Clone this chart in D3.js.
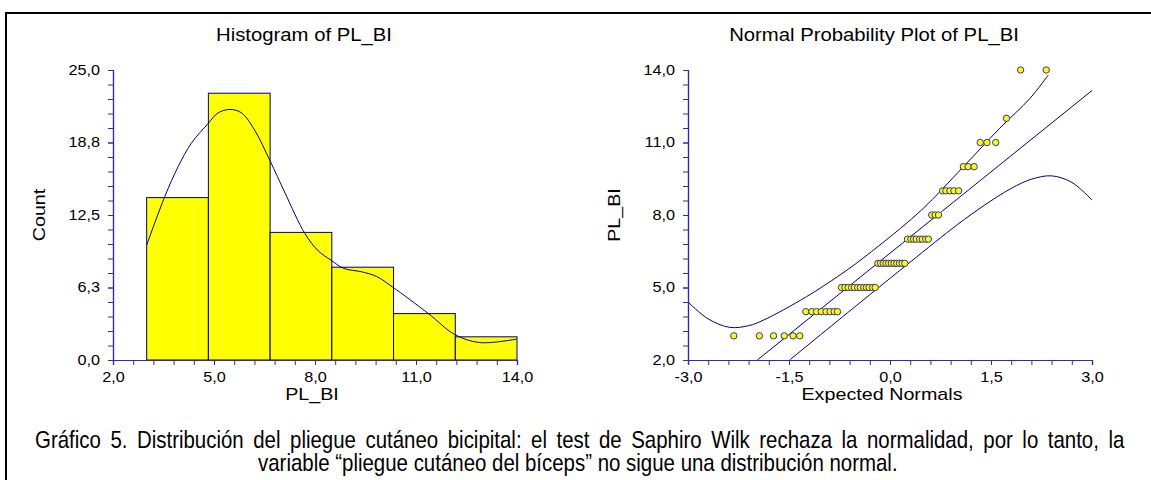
<!DOCTYPE html>
<html>
<head>
<meta charset="utf-8">
<script src="https://cdn.jsdelivr.net/npm/d3@7"></script>
<style>
  body { margin: 0; background: #fff; }
  svg { display: block; }
  text { font-family: "Liberation Sans", Arial, sans-serif; fill: #000; }
  .caption { font-family: "Liberation Sans Narrow", "Arial Narrow", "Liberation Sans", sans-serif; }
</style>
</head>
<body>
<svg id="chart" width="1151" height="480"></svg>
<script>
// histogram of PL_BI
var binLower = [3.0, 4.833, 6.667, 8.5, 10.333, 12.167];
var binUpper = [4.833, 6.667, 8.5, 10.333, 12.167, 14.0];
var binCount = [14, 23, 11, 8, 4, 2];

// smoothed density line over the histogram (in counts)
var densX = [3.0, 3.54, 3.94, 4.33, 4.83, 5.12, 5.47, 5.82, 6.21, 6.66, 7.11, 7.7, 8.1, 8.48, 8.85, 9.39, 9.83, 10.3, 11.37, 12.15, 12.9, 13.98];
var densY = [9.9, 14.1, 16.7, 18.7, 20.4, 21.3, 21.6, 21.3, 19.8, 17.2, 14.4, 10.9, 9.4, 8.6, 7.9, 7.6, 7.2, 6.3, 4.0, 2.2, 1.5, 1.8];

// normal probability plot: observed values and expected normals
var ppValue = [3,3,3,3,3,3, 4,4,4,4,4,4,4,4, 5,5,5,5,5,5,5,5,5,5,5,5,
  6,6,6,6,6,6,6,6,6,6,6, 7,7,7,7,7,7,7,7, 8,8,8, 9,9,9,9,9, 10,10,10, 11,11,11, 12, 14,14];
var ppNormal = [-2.32,-1.94,-1.73,-1.57,-1.44,-1.34, -1.25,-1.16,-1.09,-1.02,-0.95,-0.89,-0.83,-0.78,
  -0.72,-0.67,-0.62,-0.57,-0.53,-0.48,-0.44,-0.39,-0.35,-0.31,-0.26,-0.22,
  -0.18,-0.14,-0.10,-0.06,-0.02,0.02,0.06,0.10,0.14,0.18,0.22,
  0.26,0.31,0.35,0.39,0.44,0.48,0.53,0.57, 0.62,0.67,0.72, 0.78,0.83,0.89,0.95,1.02,
  1.09,1.16,1.25, 1.34,1.44,1.57, 1.73, 1.94,2.32];

var fitZ = [-1.97, 3.0];
var fitV = [2.0, 13.15];
var upperZ = [-3.0, -2.7, -2.38, -2.1, -1.88, -1.24, -0.64, -0.15, 0.47, 1.09, 1.63, 2.08, 2.35];
var upperV = [4.4, 3.7, 3.35, 3.42, 3.65, 4.62, 5.72, 6.76, 8.21, 10.0, 11.59, 12.83, 13.79];
var lowerZ = [-1.49, -0.5, 0.3, 1.0, 1.4, 1.8, 2.1, 2.4, 2.7, 3.0];
var lowerV = [2.0, 4.25, 6.05, 7.6, 8.4, 9.1, 9.48, 9.62, 9.35, 8.62];

// tick labels
var histXTicks = [2, 5, 8, 11, 14];
var histXLabels = ["2,0", "5,0", "8,0", "11,0", "14,0"];
var histYTicks = [0, 6.25, 12.5, 18.75, 25];
var histYLabels = ["0,0", "6,3", "12,5", "18,8", "25,0"];
var ppXTicks = [-3, -1.5, 0, 1.5, 3];
var ppXLabels = ["-3,0", "-1,5", "0,0", "1,5", "3,0"];
var ppYTicks = [2, 5, 8, 11, 14];
var ppYLabels = ["2,0", "5,0", "8,0", "11,0", "14,0"];

var captionLines = [
  "Gráfico 5. Distribución del pliegue cutáneo bicipital: el test de Saphiro Wilk rechaza la normalidad, por lo tanto, la",
  "variable “pliegue cutáneo del bíceps” no sigue una distribución normal."
];

var navy = "#000080";
var axisCol = "#2e2e9c";
var yellow = "#ffff00";
var stretchK = 1.16;

var svg = d3.select("#chart");

// outer frame
svg.append("rect")
   .attr("x", 6).attr("y", 13)
   .attr("width", 1160).attr("height", 500)
   .attr("fill", "none")
   .attr("stroke", "#000")
   .attr("stroke-width", 2);

function stretchText(sel, k) {
    sel.each(function() {
        var t = d3.select(this);
        var x = +t.attr("x") || 0;
        t.attr("transform", "translate(" + x + ",0) scale(" + k + ",1) translate(" + (-x) + ",0)");
    });
}

function drawAxes(g, x, y, xt, xl, xMinor, yt, yl, yMinor) {
    var xAxisMinor = d3.axisBottom(x).tickValues(xMinor).tickSize(5).tickFormat("");
    var yAxisMinor = d3.axisLeft(y).tickValues(yMinor).tickSize(5).tickFormat("");
    var xAxis = d3.axisBottom(x).tickValues(xt).tickSize(5).tickPadding(7)
                  .tickFormat(function(d, i) { return xl[i]; });
    var yAxis = d3.axisLeft(y).tickValues(yt).tickSize(5).tickPadding(8)
                  .tickFormat(function(d, i) { return yl[i]; });

    var y0 = y.range()[0];
    var x0 = x.range()[0];
    [xAxisMinor, xAxis].forEach(function(a) {
        var ga = g.append("g").attr("transform", "translate(0," + y0 + ")").call(a);
        styleAxis(ga);
    });
    [yAxisMinor, yAxis].forEach(function(a) {
        var ga = g.append("g").attr("transform", "translate(" + x0 + ",0)").call(a);
        styleAxis(ga);
    });
}

function styleAxis(ga) {
    ga.select(".domain").attr("stroke", axisCol).attr("stroke-width", 1.2);
    ga.selectAll(".tick line").attr("stroke", axisCol).attr("stroke-width", 1);
    ga.selectAll(".tick text")
      .attr("font-family", "Liberation Sans, Arial, sans-serif")
      .attr("font-size", 14)
      .attr("fill", "#000")
      .call(stretchText, stretchK);
}

function addText(g, txt, x, y, size, rotate) {
    var t = g.append("text")
             .attr("text-anchor", "middle")
             .attr("font-size", size)
             .text(txt);
    if (rotate) {
        t.attr("transform", "translate(" + x + "," + y + ") rotate(-90) scale(" + stretchK + ",1)");
    } else {
        t.attr("transform", "translate(" + x + "," + y + ") scale(" + stretchK + ",1)");
    }
    return t;
}

// ---------- histogram ----------
var hx = d3.scaleLinear().domain([2, 14]).range([113, 517]);
var hy = d3.scaleLinear().domain([0, 25]).range([360, 70]);
var gH = svg.append("g");

gH.selectAll("rect.bar").data(binCount)
  .enter()
  .append("rect")
  .attr("class", "bar")
  .attr("x", function(d, i) { return hx(binLower[i]); })
  .attr("y", function(d) { return hy(d); })
  .attr("width", function(d, i) { return hx(binUpper[i]) - hx(binLower[i]); })
  .attr("height", function(d) { return hy(0) - hy(d); })
  .attr("fill", yellow)
  .attr("stroke", navy)
  .attr("stroke-width", 1);

var densLine = d3.line()
    .x(function(d, i) { return hx(densX[i]); })
    .y(function(d) { return hy(d); })
    .curve(d3.curveCatmullRom.alpha(0.5));
gH.append("path")
  .attr("d", densLine(densY))
  .attr("fill", "none")
  .attr("stroke", navy)
  .attr("stroke-width", 1);

drawAxes(gH, hx, hy, histXTicks, histXLabels, d3.range(2, 14.001, 0.6),
         histYTicks, histYLabels, d3.range(0, 25.001, 1.25));

addText(gH, "Histogram of PL_BI", 304, 41, 17.5);
addText(gH, "PL_BI", 312, 400, 17);
addText(gH, "Count", 45, 215, 17, true);

// ---------- normal probability plot ----------
var px = d3.scaleLinear().domain([-3, 3]).range([688, 1092]);
var py = d3.scaleLinear().domain([2, 14]).range([360, 70]);
var gP = svg.append("g");

gP.append("clipPath").attr("id", "ppclip")
  .append("rect").attr("x", 688).attr("y", 60).attr("width", 404).attr("height", 300);

var lineOf = function(zs) {
    return d3.line()
        .x(function(d, i) { return px(zs[i]); })
        .y(function(d) { return py(d); })
        .curve(d3.curveCatmullRom.alpha(0.5));
};
var curves = gP.append("g").attr("clip-path", "url(#ppclip)");
[[fitZ, fitV], [upperZ, upperV], [lowerZ, lowerV]].forEach(function(c) {
    curves.append("path")
          .attr("d", lineOf(c[0])(c[1]))
          .attr("fill", "none")
          .attr("stroke", navy)
          .attr("stroke-width", 1);
});

gP.selectAll("circle").data(ppValue)
  .enter()
  .append("circle")
  .attr("cx", function(d, i) { return px(ppNormal[i]); })
  .attr("cy", function(d) { return py(d); })
  .attr("r", 3.2)
  .attr("fill", yellow)
  .attr("stroke", "#33339a")
  .attr("stroke-width", 1);

drawAxes(gP, px, py, ppXTicks, ppXLabels, d3.range(-3, 3.001, 0.3),
         ppYTicks, ppYLabels, d3.range(2, 14.001, 0.6));

addText(gP, "Normal Probability Plot of PL_BI", 874, 41, 17.5);
addText(gP, "Expected Normals", 882, 400, 17);
addText(gP, "PL_BI", 620, 215, 17, true);

// ---------- caption ----------
// justified paragraph: line 1 is spread to full width with word spacing,
// the last line is centred. Glyphs squeezed to look like a narrow face.
var cap = svg.append("g");
var capG = cap.selectAll("g").data(captionLines)
   .enter()
   .append("g");
var capTexts = capG.append("text")
   .attr("class", "caption")
   .attr("font-size", 24)
   .attr("x", 0).attr("y", 0)
   .text(function(d) { return d; });

var lastLineWidth = 640;
var natural = [];
capTexts.each(function() { natural.push(this.getComputedTextLength()); });
var squeeze = lastLineWidth / natural[1];
var spaces = captionLines[0].split(" ").length - 1;
var wordGap = Math.max(0, (1090 / squeeze - natural[0]) / spaces);

capTexts.filter(function(d, i) { return i === 0; })
   .attr("word-spacing", wordGap);
capG.attr("transform", function(d, i) {
    var x0 = i === 0 ? 35 : 578 - lastLineWidth / 2;
    return "translate(" + x0 + "," + (448 + i * 23) + ") scale(" + squeeze + ",1)";
});
</script>
</body>
</html>
